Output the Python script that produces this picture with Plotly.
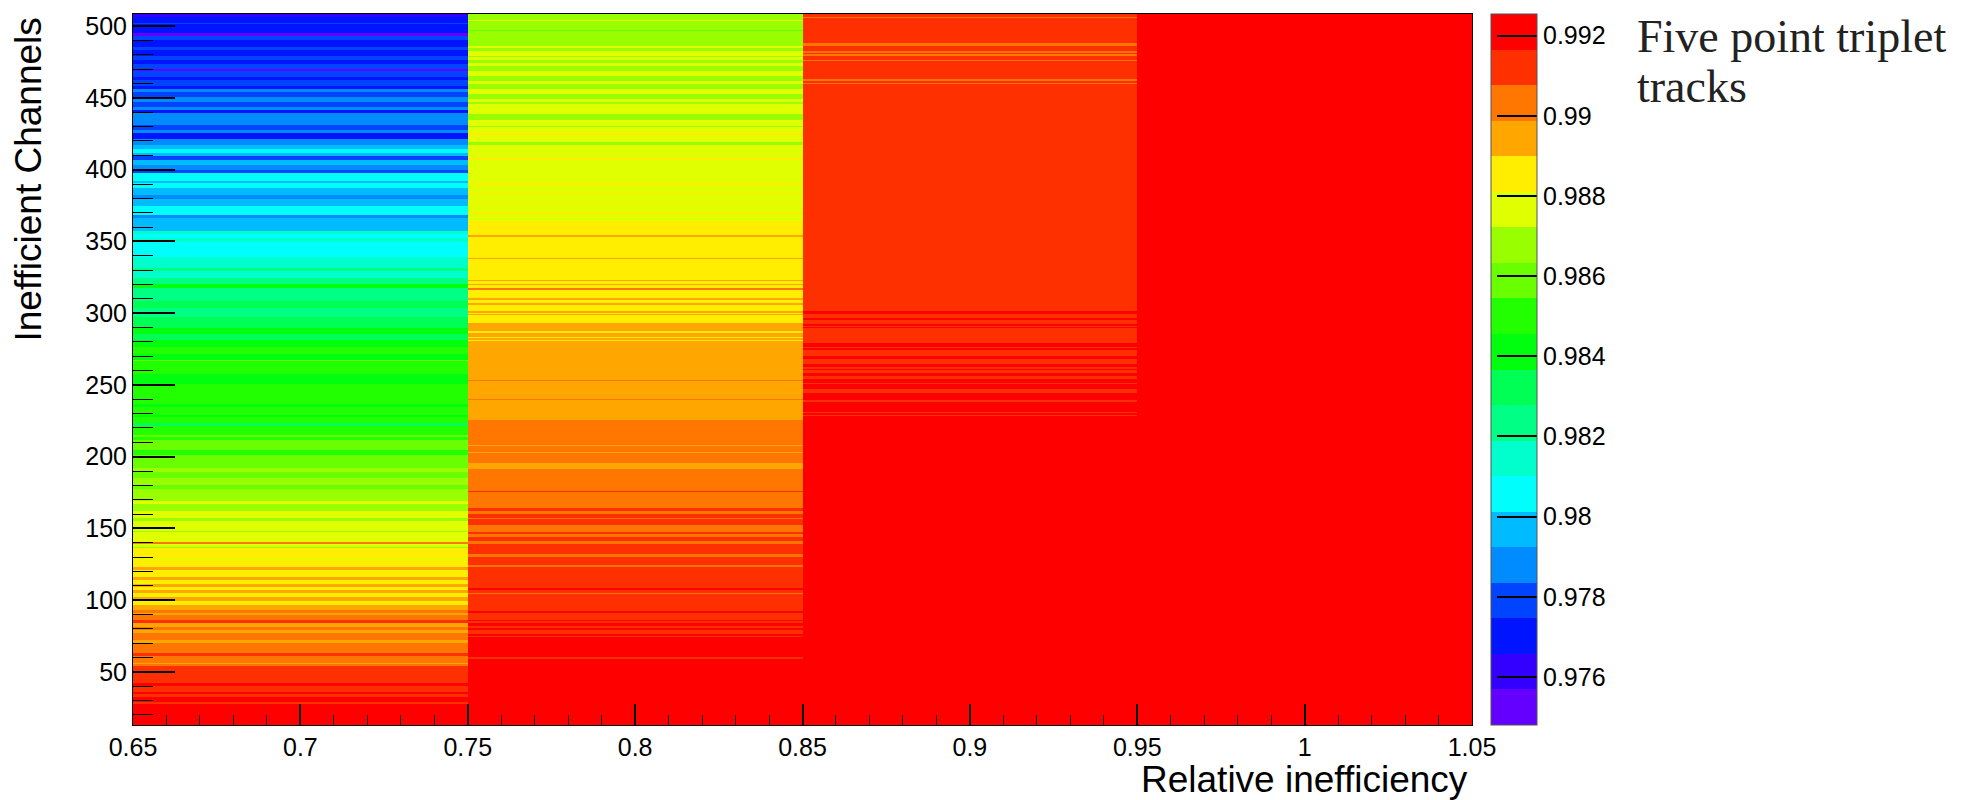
import colorsys
import plotly.graph_objects as go

# ---------------- data ----------------
x_edges = [0.65, 0.75, 0.85, 0.95, 1.05]
x_tickvals = [0.65, 0.70, 0.75, 0.80, 0.85, 0.90, 0.95, 1.00, 1.05]
x_ticktext = ["0.65", "0.7", "0.75", "0.8", "0.85", "0.9", "0.95", "1", "1.05"]
y_tickvals = [50, 100, 150, 200, 250, 300, 350, 400, 450, 500]
cb_tickvals = [0.976, 0.978, 0.980, 0.982, 0.984, 0.986, 0.988, 0.990, 0.992]
cb_ticktext = ["0.976", "0.978", "0.98", "0.982", "0.984", "0.986", "0.988", "0.99", "0.992"]

channel_min, channel_max = 13, 508
z_min, z_max = 0.9748, 0.99254

# runs: (highest channel of run, efficiency) -- run extends down to next entry
col1_runs = [(508, .9761), (506, .9770), (502, .9779), (501, .9770), (495, .9752), (493, .9779),
             (490, .9770), (485, .9779), (483, .9770), (479, .9779), (476, .9770), (473, .9779),
             (470, .9752), (468, .9779), (464, .9770), (462, .9779), (458, .9770), (456, .9788),
             (454, .9779), (450, .9788), (447, .9779), (443, .9788), (441, .9770), (439, .9788),
             (431, .9779), (427, .9788), (425, .9770), (421, .9788), (417, .9797), (414, .9806),
             (411, .9797), (409, .9779), (406, .9797), (403, .9788), (399, .9779), (397, .9806),
             (392, .9797), (390, .9806), (387, .9797), (382, .9788), (379, .9797), (374, .9806),
             (368, .9788), (366, .9797), (357, .9814), (355, .9806), (352, .9814), (349, .9806),
             (339, .9814), (331, .9823), (329, .9814), (324, .9823), (320, .9841), (317, .9823),
             (308, .9832), (303, .9823), (297, .9832), (289, .9841), (285, .9832), (281, .9841),
             (276, .9850), (271, .9841), (267, .9859), (266, .9850), (257, .9841), (250, .9850),
             (236, .9841), (234, .9850), (229, .9841), (227, .9850), (223, .9832), (221, .9850),
             (215, .9859), (213, .9850), (211, .9859), (204, .9850), (201, .9859), (192, .9868),
             (189, .9859), (185, .9868), (180, .9859), (177, .9868), (169, .9877), (167, .9868),
             (162, .9877), (157, .9868), (155, .9877), (148, .9868), (147, .9877), (140, .9903),
             (139, .9877), (137, .9868), (136, .9885), (129, .9877), (128, .9885), (123, .9894),
             (121, .9885), (116, .9894), (114, .9885), (111, .9894), (109, .9885), (107, .9894),
             (105, .9885), (102, .9894), (99, .9885), (96, .9894), (93, .9903), (91, .9894),
             (89, .9903), (86, .9912), (84, .9894), (81, .9903), (79, .9894), (77, .9903),
             (72, .9894), (70, .9903), (63, .9912), (61, .9903), (56, .9894), (55, .9903),
             (54, .9912), (42, .9921), (40, .9912), (36, .9921), (34, .9912), (32, .9921),
             (29, .9912), (27, .9921)]

col2_runs = [(508, .9868), (504, .9877), (503, .9868), (497, .9859), (496, .9868), (486, .9877),
             (484, .9868), (482, .9877), (479, .9868), (478, .9877), (476, .9868), (474, .9877),
             (472, .9868), (468, .9877), (465, .9868), (461, .9877), (459, .9868), (456, .9877),
             (452, .9868), (449, .9877), (447, .9868), (445, .9877), (438, .9868), (434, .9877),
             (430, .9868), (429, .9877), (425, .9885), (423, .9877), (419, .9868), (417, .9877),
             (408, .9885), (406, .9877), (390, .9885), (389, .9877), (384, .9885), (383, .9877),
             (377, .9885), (376, .9877), (370, .9885), (369, .9877), (364, .9885), (354, .9894),
             (353, .9885), (338, .9894), (337, .9885), (323, .9894), (322, .9885), (320, .9894),
             (319, .9885), (317, .9903), (316, .9885), (310, .9894), (309, .9885), (307, .9894),
             (305, .9885), (301, .9894), (300, .9885), (299, .9894), (298, .9885), (293, .9894),
             (287, .9885), (286, .9894), (283, .9885), (282, .9894), (281, .9885), (280, .9894),
             (253, .9903), (252, .9894), (240, .9903), (239, .9894), (225, .9903), (208, .9894),
             (207, .9903), (203, .9894), (202, .9903), (195, .9894), (191, .9903), (176, .9912),
             (175, .9903), (164, .9912), (162, .9903), (160, .9912), (157, .9903), (156, .9912),
             (152, .9903), (147, .9912), (146, .9903), (144, .9912), (141, .9903), (139, .9912),
             (132, .9903), (130, .9912), (124, .9903), (123, .9912), (108, .9921), (107, .9912),
             (105, .9903), (104, .9912), (92, .9921), (91, .9912), (86, .9921), (85, .9912),
             (84, .9921), (82, .9912), (80, .9921), (79, .9912), (76, .9921), (75, .9912),
             (74, .9921), (60, .9912), (59, .9921)]

col3_runs = [(508, .9912), (506, .9903), (505, .9912), (488, .9903), (486, .9912), (482, .9903),
             (481, .9912), (480, .9903), (479, .9912), (476, .9903), (475, .9912), (463, .9903),
             (461, .9912), (460, .9903), (459, .9912), (301, .9921), (299, .9912), (296, .9921),
             (295, .9912), (292, .9921), (291, .9912), (290, .9921), (289, .9912), (279, .9921),
             (276, .9912), (275, .9921), (274, .9912), (270, .9921), (268, .9912), (264, .9921),
             (262, .9912), (261, .9921), (260, .9912), (258, .9921), (256, .9912), (254, .9921),
             (251, .9912), (250, .9921), (247, .9912), (244, .9921), (239, .9912), (238, .9921),
             (231, .9912), (230, .9921), (229, .9912), (228, .9921)]

col4_runs = [(508, .9921)]

# ---------------- build grid ----------------
channels = list(range(channel_min, channel_max + 1))
y_edges = [c - 0.5 for c in channels] + [channel_max + 0.5]


def expand(runs):
    out = []
    for c in channels:
        val = None
        for top, e in runs:
            if top >= c:
                val = e
            else:
                break
        out.append(val)
    return out


cols = [expand(r) for r in (col1_runs, col2_runs, col3_runs, col4_runs)]
z = [[cols[j][i] for j in range(4)] for i in range(len(channels))]

# ROOT "pretty" palette, 20 contour levels
n_levels = 20
hues = []
for k in range(n_levels):
    idx = int((k + 0.99) * 50 / n_levels)
    hues.append(None if idx >= 49 else 280 - (idx + 1) * 5.6)
colors = []
for h in hues:
    if h is None:
        colors.append("rgb(255,0,0)")
    else:
        r, g, b = colorsys.hls_to_rgb(h / 360.0, 0.5, 1.0)
        colors.append("rgb(%d,%d,%d)" % (round(r * 255), round(g * 255), round(b * 255)))
colorscale = []
for k, c in enumerate(colors):
    colorscale.append([k / n_levels, c])
    colorscale.append([(k + 1) / n_levels, c])

# ---------------- figure ----------------
W, H = 1988, 800
L, R, T, B = 133, 516, 12, 75
pw, ph = W - L - R, H - T - B

sans = "Liberation Sans, Arial, sans-serif"

fig = go.Figure(go.Heatmap(
    x=x_edges, y=y_edges, z=z,
    zmin=z_min, zmax=z_max, zsmooth=False,
    colorscale=colorscale,
    hoverongaps=False,
    colorbar=dict(
        x=(1491 - L) / pw, xanchor="left", xpad=0,
        y=0, yanchor="bottom", len=1, lenmode="fraction", ypad=0,
        thickness=46, outlinewidth=1, outlinecolor="#555",
        tickmode="array", tickvals=cb_tickvals, ticktext=cb_ticktext,
        ticks="inside", ticklen=40, tickwidth=1.5, tickcolor="black",
        tickfont=dict(family=sans, size=25, color="black"),
    ),
))

fig.update_layout(
    width=W, height=H,
    margin=dict(l=L, r=R, t=T, b=B),
    paper_bgcolor="white", plot_bgcolor="white",
    xaxis=dict(
        range=[0.65, 1.05], tickmode="array", tickvals=x_tickvals, ticktext=x_ticktext,
        ticks="inside", ticklen=21, tickwidth=1.5, tickcolor="black",
        minor=dict(tick0=0.65, dtick=0.01, ticks="inside", ticklen=10, tickwidth=1.2, tickcolor="black"),
        showgrid=False, zeroline=False, showline=True, linecolor="black", linewidth=1, mirror=True,
        tickfont=dict(family=sans, size=25, color="black"),
    ),
    yaxis=dict(
        range=[13, 508.5], tickmode="array", tickvals=y_tickvals,
        ticks="inside", ticklen=42, tickwidth=1.5, tickcolor="black",
        minor=dict(tick0=0, dtick=10, ticks="inside", ticklen=20, tickwidth=1.2, tickcolor="black"),
        showgrid=False, zeroline=False, showline=True, linecolor="black", linewidth=1, mirror=True,
        tickfont=dict(family=sans, size=25, color="black"),
    ),
    annotations=[
        dict(text="Inefficient Channels", textangle=-90, showarrow=False,
             xref="paper", yref="paper", x=(29 - L) / pw, y=1 - (178 - T) / ph,
             xanchor="center", yanchor="middle",
             font=dict(family=sans, size=37, color="black")),
        dict(text="Relative inefficiency", showarrow=False,
             xref="paper", yref="paper", x=(1470 - L) / pw, y=-(780 - (T + ph)) / ph,
             xanchor="right", yanchor="middle",
             font=dict(family=sans, size=37, color="black")),
        dict(text="Five point triplet", showarrow=False, align="left",
             xref="paper", yref="paper", x=(1635 - L) / pw, y=1 - (35 - T) / ph,
             xanchor="left", yanchor="middle",
             font=dict(family="Liberation Serif, Times New Roman, serif", size=46, color="#222")),
        dict(text="tracks", showarrow=False, align="left",
             xref="paper", yref="paper", x=(1635 - L) / pw, y=1 - (85 - T) / ph,
             xanchor="left", yanchor="middle",
             font=dict(family="Liberation Serif, Times New Roman, serif", size=46, color="#222")),
    ],
)

fig.write_html("out.html")
